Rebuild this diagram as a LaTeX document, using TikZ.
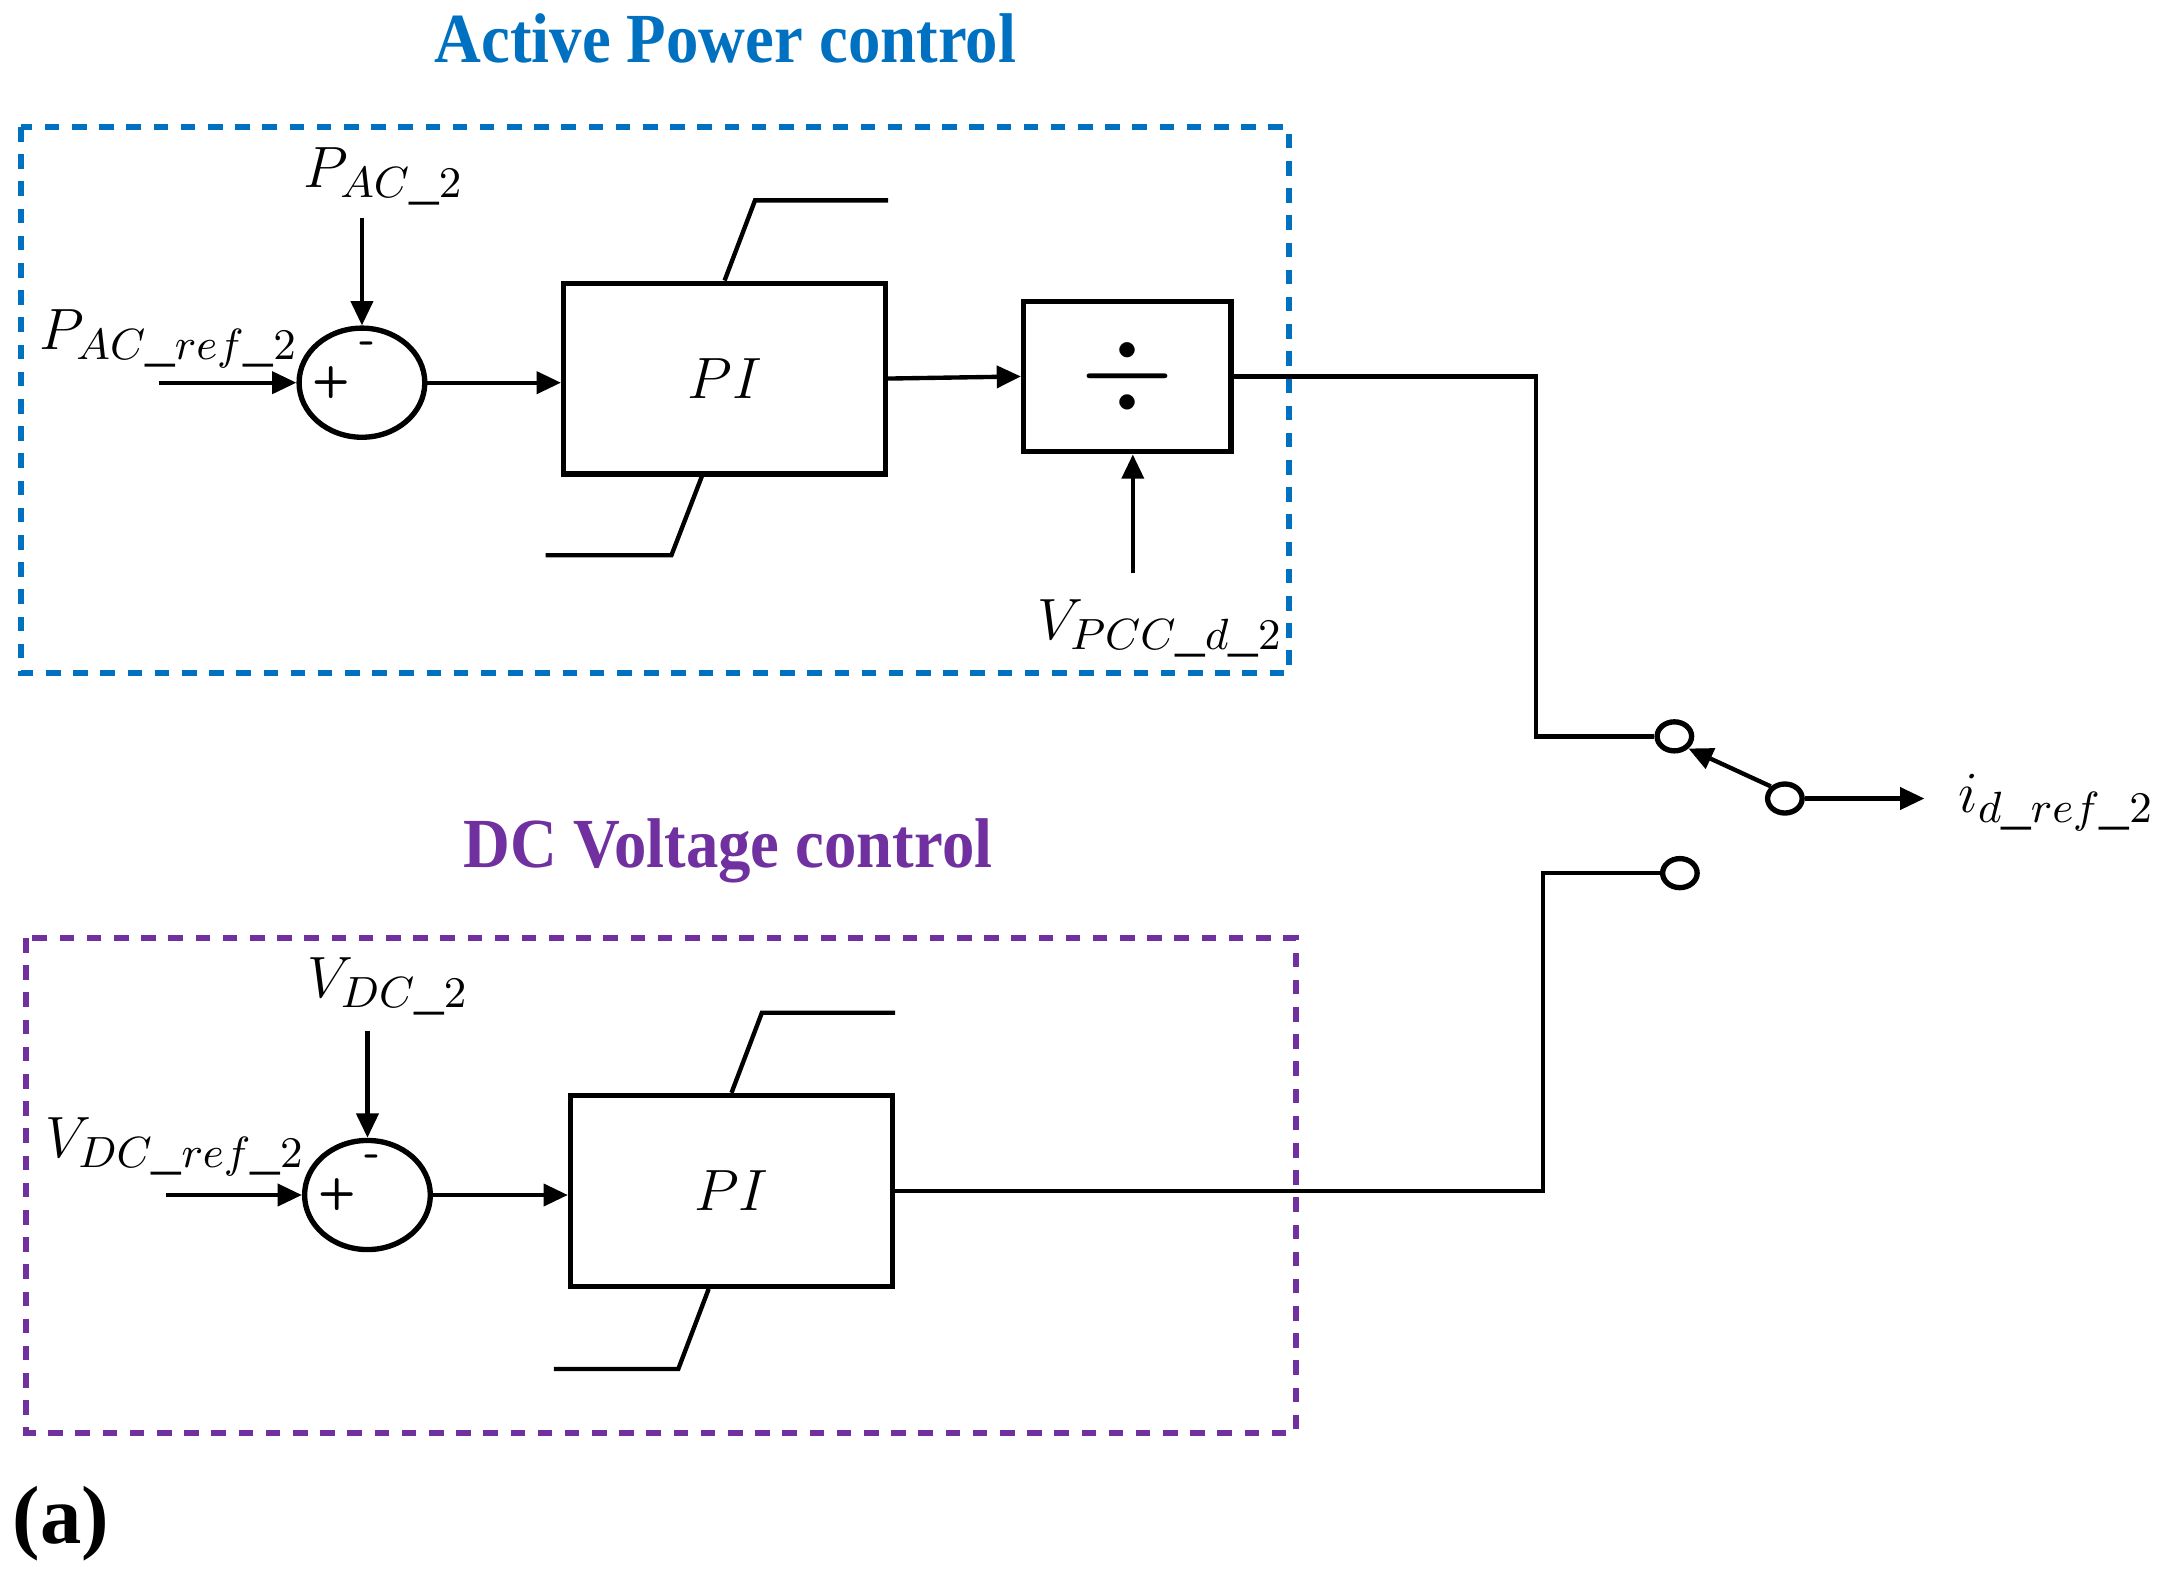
\documentclass[tikz,border=0pt]{standalone}
\usepackage{fontspec}
\setmainfont{Liberation Serif}
\usetikzlibrary{arrows.meta,shapes.geometric}
\definecolor{apblue}{RGB}{0,112,192}
\definecolor{dcpurple}{RGB}{112,48,160}
\tikzset{
  wire/.style={draw=black,line width=0.9pt},
  sig/.style={draw=black,line width=0.9pt,-{Triangle[length=5pt,width=4.5pt]}},
  sumnode/.style={ellipse,draw=black,line width=1.1pt,minimum width=0.91cm,minimum height=0.79cm,inner sep=0pt},
  piblock/.style={rectangle,draw=black,line width=1.1pt,minimum width=2.33cm,minimum height=1.38cm},
  divblock/.style={rectangle,draw=black,line width=1.1pt,minimum width=1.5cm,minimum height=1.09cm},
  swpoint/.style={ellipse,draw=black,line width=1.1pt,minimum width=0.25cm,minimum height=0.21cm,inner sep=0pt},
  ctrlframe/.style={line width=1.2pt,dash pattern=on 3pt off 2.6pt},
  lbl/.style={font=\fontsize{12.2}{14}\selectfont,inner sep=0pt},
  sign/.style={font=\fontsize{9}{11}\selectfont\sffamily\bfseries,inner sep=0pt},
  heading/.style={font=\fontsize{14.5}{16}\selectfont\bfseries},
}
\begin{document}
\begin{tikzpicture}
    \useasboundingbox (0,0) rectangle (15.65,-11.36);
    % active power control
    \node[heading,text=apblue] (titleA) at (5.25,-0.28) {\scalebox{0.92}[1]{Active Power control}};
    \draw[ctrlframe,draw=apblue] (0.15,-0.92) rectangle (9.33,-4.87);
    \node[sumnode] (sumA) at (2.62,-2.77) {};
    \node[sign] at ([xshift=-0.22cm]sumA.center) {+};
    \node[sign] at ([xshift=0.04cm,yshift=0.25cm]sumA.center) {-};
    \node[piblock,lbl] (piA) at (5.245,-2.74) {$PI$};
    \node[divblock,font=\fontsize{26}{28}\selectfont] (divA) at (8.16,-2.725) {$\div$};
    \node[lbl,anchor=base west] (pacref) at (0.28,-2.53) {$P_{AC\_ref\_2}$};
    \node[lbl,anchor=base west] (pac) at (2.19,-1.36) {$P_{AC\_2}$};
    \node[lbl,anchor=base west] (vpcc) at (7.50,-4.63) {$V_{PCC\_d\_2}$};
    \coordinate (pacrefin) at (1.15,-2.77);
    \coordinate (pacin) at (2.62,-1.58);
    \coordinate (vpccin) at (8.20,-4.15);
    \draw[sig] (pacrefin) -- (sumA.west);
    \draw[sig] (pacin) -- (sumA.north);
    \draw[sig] (sumA.east) -- (sumA.east -| piA.west);
    \draw[sig] (piA.east) -- (divA.west);
    \draw[sig] (vpccin) -- (vpccin |- divA.south);
    \draw[wire] (piA.north) -- ++(0.22,0.58) coordinate (satA) -- (satA -| piA.east);
    \draw[wire] ([xshift=-0.165cm]piA.south) -- ++(-0.22,-0.57) -- ++(-0.91,0);
    % dc voltage control
    \node[heading,text=dcpurple] (titleB) at (5.27,-6.16) {\scalebox{0.92}[1]{DC Voltage control}};
    \draw[ctrlframe,draw=dcpurple] (0.19,-6.79) rectangle (9.38,-10.37);
    \node[sumnode] (sumB) at (2.66,-8.65) {};
    \node[sign] at ([xshift=-0.22cm]sumB.center) {+};
    \node[sign] at ([xshift=0.04cm,yshift=0.25cm]sumB.center) {-};
    \node[piblock,lbl] (piB) at (5.295,-8.62) {$PI$};
    \node[lbl,anchor=base west] (vdcref) at (0.32,-8.38) {$V_{DC\_ref\_2}$};
    \node[lbl,anchor=base west] (vdc) at (2.22,-7.22) {$V_{DC\_2}$};
    \coordinate (vdcrefin) at (1.20,-8.65);
    \coordinate (vdcin) at (2.66,-7.46);
    \draw[sig] (vdcrefin) -- (sumB.west);
    \draw[sig] (vdcin) -- (sumB.north);
    \draw[sig] (sumB.east) -- (sumB.east -| piB.west);
    \draw[wire] (piB.north) -- ++(0.22,0.58) coordinate (satB) -- (satB -| piB.east);
    \draw[wire] ([xshift=-0.165cm]piB.south) -- ++(-0.22,-0.58) -- ++(-0.90,0);
    % selector switch
    \node[swpoint] (swA) at (12.12,-5.33) {};
    \node[swpoint] (swB) at (12.16,-6.32) {};
    \node[swpoint] (swC) at (12.92,-5.78) {};
    \coordinate (idout) at (13.93,-5.78);
    \node[lbl,anchor=base west] (idref) at (14.17,-5.88) {$i_{d\_ref\_2}$};
    \draw[wire] (divA.east) -- ++(2.19,0) |- (swA.west);
    \draw[wire] (piB.east) -- ++(4.69,0) |- (swB.west);
    \draw[sig] (swC.north west) -- (swA.south east);
    \draw[sig] (swC.east) -- (idout);
    \node[font=\fontsize{17}{20}\selectfont\bfseries] (figtag) at (0.44,-11.03) {(a)};
\end{tikzpicture}
\end{document}
